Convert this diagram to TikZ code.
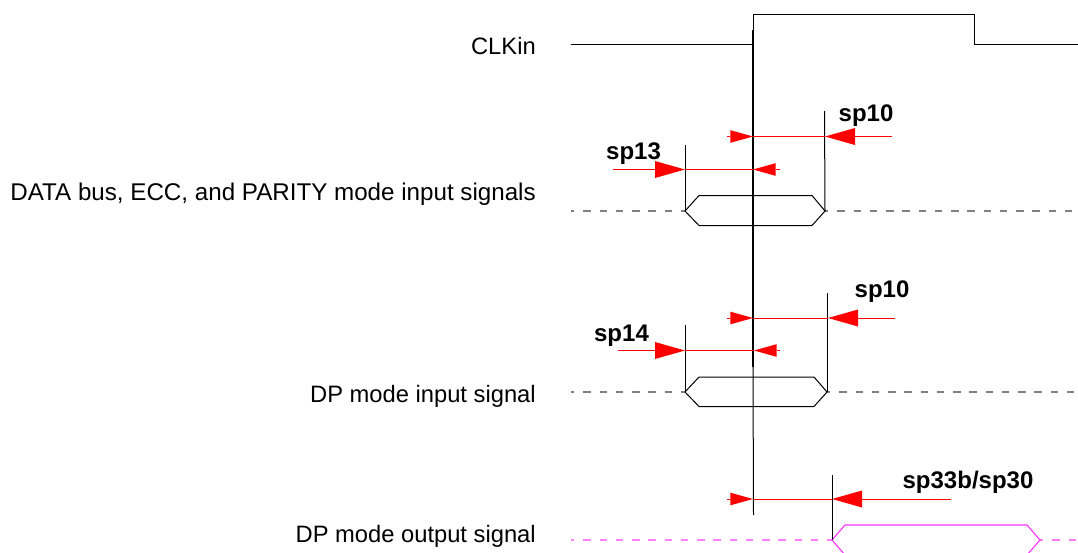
\documentclass[tikz,border=0pt]{standalone}
\usepackage{fontspec}
\setmainfont{Liberation Sans}
\usetikzlibrary{arrows.meta}
\tikzset{
  every picture/.style={x=0.75pt,y=-0.75pt},
  wire/.style={draw=black,line width=0.75pt},
  mainline/.style={draw=black,line width=1.4pt},
  thinmain/.style={draw=black,line width=0.75pt},
  greydash/.style={draw=black!50,line width=1.1pt,dash pattern=on 5.6pt off 6.6pt,dash phase=3pt},
  pinkdash/.style={draw=sigpink!50!white,line width=1.1pt,dash pattern=on 5.6pt off 6.6pt,dash phase=3pt},
  pinkwire/.style={draw=sigpink!80!white,line width=0.85pt},
  redline/.style={draw=red,line width=0.75pt},
  bighead/.style={redline,-{Triangle[length=22.5pt,width=12.75pt,fill=red,line width=0pt]}},
  smallhead/.style={redline,-{Triangle[length=17pt,width=9.5pt,fill=red,line width=0pt]}},
  siglabel/.style={anchor=base east,inner sep=0pt,font=\fontsize{17.8}{22}\selectfont},
  widelabel/.style={anchor=base east,inner sep=0pt,font=\fontsize{18.13}{22}\selectfont},
  timelabel/.style={anchor=base,inner sep=0pt,font=\fontsize{18}{22}\bfseries\selectfont},
}
\definecolor{sigpink}{RGB}{255,0,255}
\begin{document}
\begin{tikzpicture}
\useasboundingbox (0,0) rectangle (1078,553);
\begin{scope}
\clip (0,0) rectangle (1078,553);

% signal labels
\node[siglabel] (lclk) at (536,54) {CLKin};
\node[widelabel] (ldata) at (536,200) {DATA bus, ECC, and PARITY mode input signals};
\node[siglabel] (ldp) at (536,402) {DP mode input signal};
\node[siglabel] (ldpo) at (536,542) {DP mode output signal};

% clock
\coordinate (c0) at (571,44.5);
\coordinate (c1) at (753,44.5);
\coordinate (c2) at (753,14.5);
\coordinate (c3) at (974,14.5);
\coordinate (c4) at (974,44.5);
\coordinate (c5) at (1078,44.5);
\draw[wire] (c0) -- (c1) -- (c2) -- (c3) -- (c4) -- (c5);

% main reference line
\coordinate (m0) at (753,30);
\coordinate (m1) at (753,367);
\coordinate (m2) at (753.5,515);
\draw[mainline] (m0) -- (m1);
\draw[thinmain] (m1) -- (m2);

% DATA bus group
\coordinate (a1) at (685,211);
\coordinate (a2) at (699,195.5);
\coordinate (a3) at (812,195.5);
\coordinate (a4) at (825,211);
\coordinate (a5) at (812,225.5);
\coordinate (a6) at (699,225.5);
\coordinate (at1) at (685,145);
\coordinate (at2) at (824.5,111);
\coordinate (ad0) at (571,211);
\coordinate (ad1) at (1076,211);
\draw[greydash] (ad0) -- (a1);
\draw[greydash] (a4) -- (ad1);
\draw[wire] (a1) -- (a2) -- (a3) -- (a4) -- (a5) -- (a6) -- cycle;
\draw[wire] (at1) -- (a1);
\draw[wire] (at2) -- (a4);

\coordinate (r1a) at (727,136.5);
\coordinate (r1b) at (753,136.5);
\coordinate (r1c) at (825,136.5);
\coordinate (r1d) at (892,136.5);
\draw[redline] (r1b) -- (r1c);
\draw[smallhead] (r1a) -- (r1b);
\draw[bighead] (r1d) -- (r1c);

\coordinate (r2a) at (613,169.5);
\coordinate (r2b) at (685,169.5);
\coordinate (r2c) at (753,169.5);
\coordinate (r2d) at (780,169.5);
\draw[redline] (r2b) -- (r2c);
\draw[bighead] (r2a) -- (r2b);
\draw[smallhead] (r2d) -- (r2c);

\node[timelabel] (t1) at (866,121.5) {sp10};
\node[timelabel] (t2) at (633.5,159.5) {sp13};

% DP input group
\coordinate (b1) at (685,392);
\coordinate (b2) at (699,377);
\coordinate (b3) at (814,377);
\coordinate (b4) at (827,392);
\coordinate (b5) at (814,406.5);
\coordinate (b6) at (699,406.5);
\coordinate (bt1) at (685,325);
\coordinate (bt2) at (827,293);
\coordinate (bd0) at (571,392);
\coordinate (bd1) at (1076,392);
\draw[greydash] (bd0) -- (b1);
\draw[greydash] (b4) -- (bd1);
\draw[wire] (b1) -- (b2) -- (b3) -- (b4) -- (b5) -- (b6) -- cycle;
\draw[wire] (bt1) -- (b1);
\draw[wire] (bt2) -- (b4);

\coordinate (r3a) at (727,318);
\coordinate (r3b) at (753,318);
\coordinate (r3c) at (828,318);
\coordinate (r3d) at (895,318);
\draw[redline] (r3b) -- (r3c);
\draw[smallhead] (r3a) -- (r3b);
\draw[bighead] (r3d) -- (r3c);

\coordinate (r4a) at (618,350.5);
\coordinate (r4b) at (685,350.5);
\coordinate (r4c) at (754,350.5);
\coordinate (r4d) at (780,350.5);
\draw[redline] (r4b) -- (r4c);
\draw[bighead] (r4a) -- (r4b);
\draw[smallhead] (r4d) -- (r4c);

\node[timelabel] (t3) at (882,297) {sp10};
\node[timelabel] (t4) at (621.5,341.5) {sp14};

% DP output group
\coordinate (d1) at (832,540);
\coordinate (d2) at (845,525);
\coordinate (d3) at (1027,525);
\coordinate (d4) at (1040,540);
\coordinate (d5) at (1027,555);
\coordinate (d6) at (845,555);
\coordinate (dt) at (832,475);
\coordinate (dd0) at (571,540);
\coordinate (dd1) at (1076,540);
\draw[pinkdash] (dd0) -- (d1);
\draw[pinkdash] (d4) -- (dd1);
\draw[pinkwire] (d1) -- (d2) -- (d3) -- (d4) -- (d5) -- (d6) -- cycle;
\draw[wire] (dt) -- (d1);

\coordinate (r5a) at (727,499);
\coordinate (r5b) at (753,499);
\coordinate (r5c) at (832,499);
\coordinate (r5d) at (951,499);
\draw[redline] (r5b) -- (r5c);
\draw[smallhead] (r5a) -- (r5b);
\draw[bighead] (r5d) -- (r5c);

\node[timelabel] (t5) at (968,488.5) {sp33b/sp30};
\end{scope}
\end{tikzpicture}
\end{document}
